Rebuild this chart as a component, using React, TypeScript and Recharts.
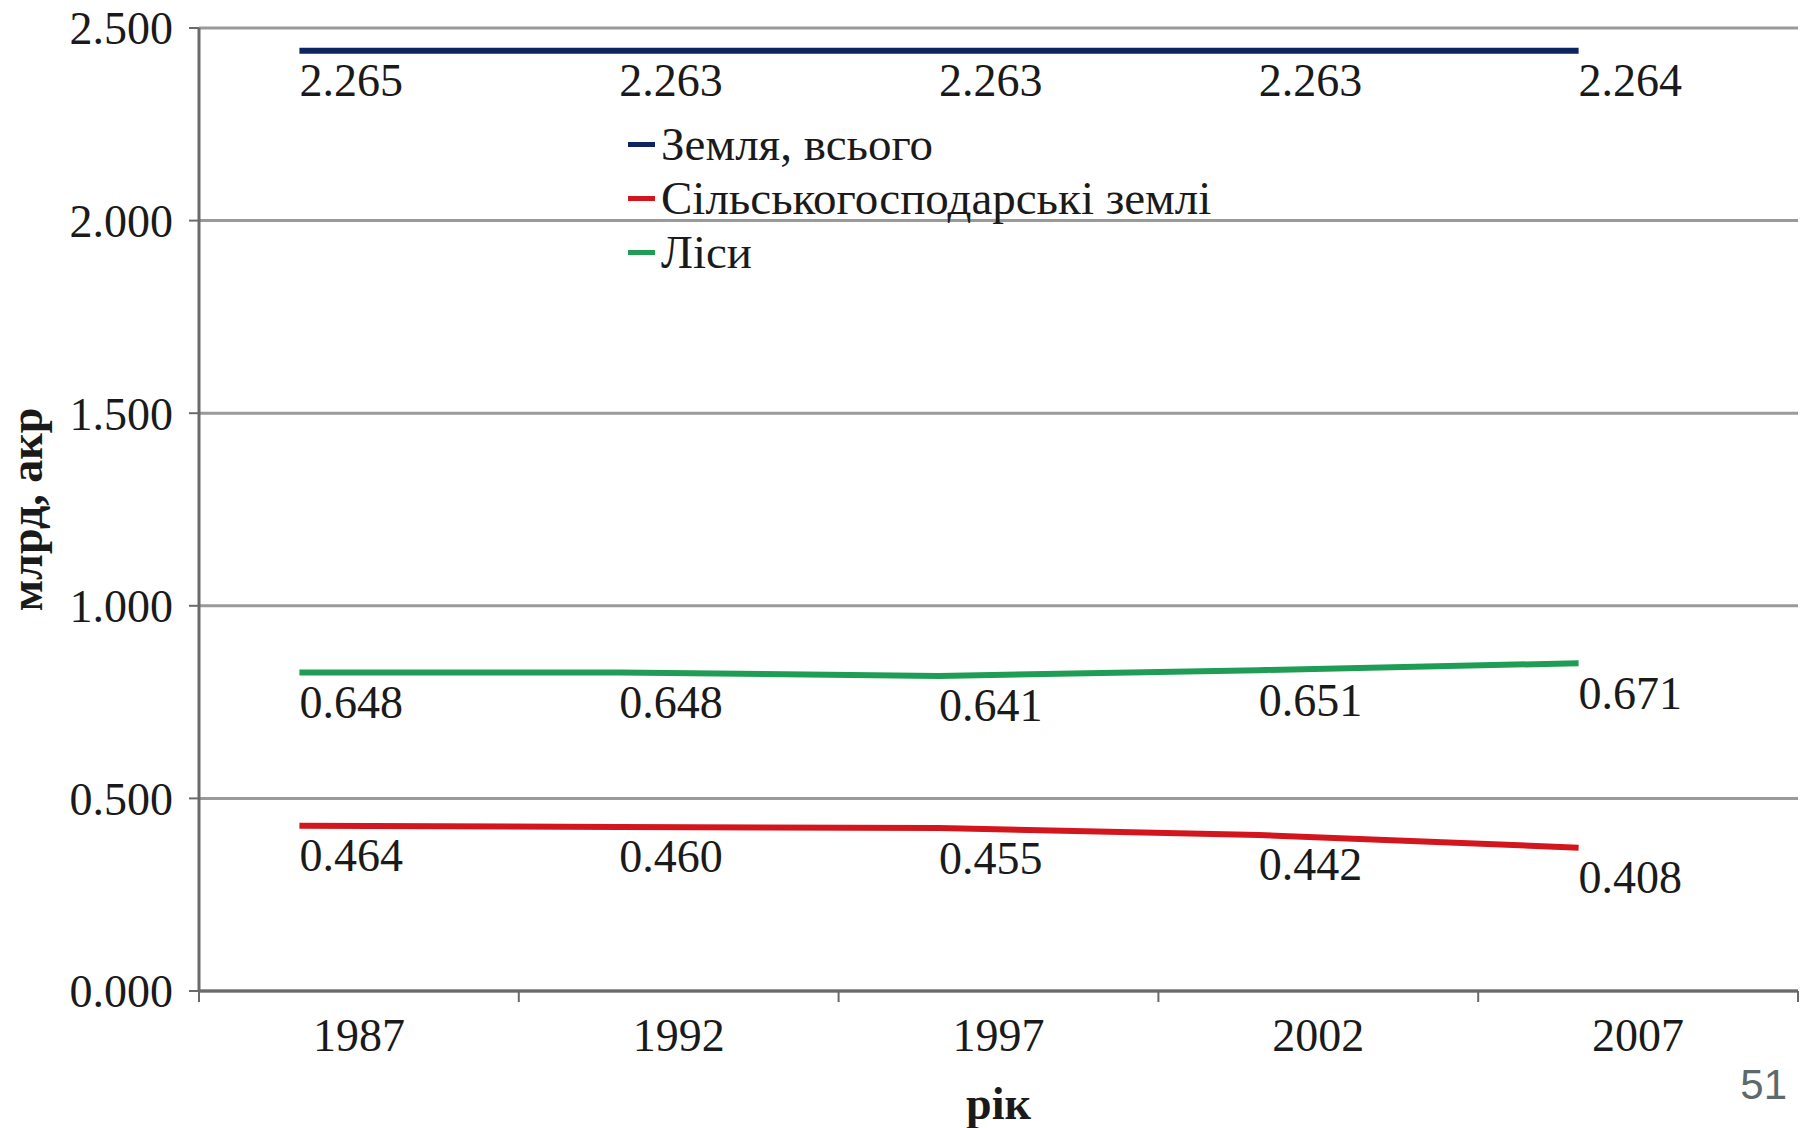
import React from 'react';
import { LineChart, Line, XAxis, YAxis, CartesianGrid, Legend, LabelList, Label } from 'recharts';

// years shown under the axis
const years = [1987, 1992, 1997, 2002, 2007];

// series names, in legend order
const seriesNames = ['Земля, всього', 'Сільськогосподарські землі', 'Ліси'];

// where each line is drawn and the value printed under it
const totalValues = [2.441, 2.441, 2.441, 2.441, 2.441];
const totalLabels = ['2.265', '2.263', '2.263', '2.263', '2.264'];
const agriValues = [0.429, 0.426, 0.423, 0.405, 0.372];
const agriLabels = ['0.464', '0.460', '0.455', '0.442', '0.408'];
const forestValues = [0.827, 0.827, 0.818, 0.833, 0.851];
const forestLabels = ['0.648', '0.648', '0.641', '0.651', '0.671'];

const yTicks = [0, 0.5, 1, 1.5, 2, 2.5];

const SERIF = '"Liberation Serif", "Times New Roman", serif';
const TEXT = '#1a1a1a';
const AXIS = '#6a6a6a';

const data = years.map((year, i) => ({
  year,
  total: totalValues[i],
  totalLabel: totalLabels[i],
  agri: agriValues[i],
  agriLabel: agriLabels[i],
  forest: forestValues[i],
  forestLabel: forestLabels[i],
}));

const half = (years[1] - years[0]) / 2;
const xDomain = [years[0] - half, years[years.length - 1] + half];
// the plotted points sit a bit left of the year centres in the original
const shift = 0.93;

// year label at the band centre, tick marks on the band edges (Excel style)
const YearTick = (props: any) => {
  const { x, y, payload, index, width } = props;
  const band = (width || 1599) / years.length;
  const left = x - band / 2;
  return (
    <g>
      <line x1={left} x2={left} y1={y} y2={y + 11} stroke={AXIS} strokeWidth={2} />
      {index === years.length - 1 && (
        <line x1={x + band / 2} x2={x + band / 2} y1={y} y2={y + 11} stroke={AXIS} strokeWidth={2} />
      )}
      <text x={x} y={y + 44} textAnchor="middle" dominantBaseline="central" fontSize={46} fill={TEXT} fontFamily={SERIF}>
        {payload.value}
      </text>
    </g>
  );
};

const PointLabel = (props: any) => {
  const { x, y, value } = props;
  return (
    <text x={x} y={y + 30} textAnchor="start" dominantBaseline="central" fontSize={46} fill={TEXT} fontFamily={SERIF}>
      {value}
    </text>
  );
};

const LegendContent = ({ payload }: any) => {
  const items = [...(payload || [])].sort((a: any, b: any) => seriesNames.indexOf(a.value) - seriesNames.indexOf(b.value));
  return (
    <div style={{ display: 'flex', flexDirection: 'column' }}>
      {items.map((item: any) => (
        <div key={item.value} style={{ display: 'flex', alignItems: 'center', height: 54 }}>
          <span style={{ display: 'inline-block', width: 27, height: 5, background: item.color, marginRight: 6 }} />
          <span style={{ fontSize: 47, fontFamily: SERIF, color: TEXT, lineHeight: '54px', whiteSpace: 'nowrap' }}>
            {item.value}
          </span>
        </div>
      ))}
    </div>
  );
};

const YTitle = (props: any) => {
  const vb = props.viewBox || { x: 0, y: 0, width: 0, height: 0 };
  const cx = vb.x + 42;
  const cy = vb.y + vb.height / 2;
  return (
    <text x={cx} y={cy} transform={`rotate(-90, ${cx}, ${cy})`} textAnchor="middle" fontSize={46} fontWeight="bold" fill={TEXT} fontFamily={SERIF}>
      млрд, акр
    </text>
  );
};

export default function App() {
  return (
    <div style={{ position: 'absolute', left: 0, top: 0, width: 1808, height: 1128, background: '#fff' }}>
      <LineChart width={1808} height={1128} data={data} margin={{ top: 28, right: 10, left: 0, bottom: 0 }} style={{ fontFamily: SERIF }}>
        <CartesianGrid xAxisId="years" vertical={false} stroke="#9a9a9a" strokeWidth={3} />
        <XAxis
          xAxisId="years"
          type="number"
          dataKey="year"
          domain={xDomain}
          ticks={years}
          interval={0}
          allowDataOverflow
          height={137}
          axisLine={{ stroke: AXIS, strokeWidth: 3 }}
          tickLine={false}
          tickSize={0}
          tickMargin={0}
          tick={<YearTick />}
        >
          <Label value="рік" position="insideBottom" offset={9} fontSize={46} fontWeight="bold" fill={TEXT} fontFamily={SERIF} />
        </XAxis>
        <XAxis
          xAxisId="pos"
          type="number"
          dataKey="year"
          hide
          height={0}
          allowDataOverflow
          domain={[xDomain[0] + shift, xDomain[1] + shift]}
        />
        <YAxis
          type="number"
          domain={[0, 2.5]}
          ticks={yTicks}
          interval={0}
          width={199}
          tickFormatter={(v: number) => v.toFixed(3)}
          tick={{ fontSize: 46, fill: TEXT, fontFamily: SERIF }}
          tickSize={10}
          tickMargin={16}
          axisLine={{ stroke: AXIS, strokeWidth: 3 }}
          tickLine={{ stroke: AXIS, strokeWidth: 2 }}
        >
          <Label content={<YTitle />} />
        </YAxis>
        <Legend
          layout="vertical"
          align="center"
          verticalAlign="middle"
          content={<LegendContent />}
          wrapperStyle={{ left: 628, top: 117, width: 720, height: 170 }}
        />
        <Line xAxisId="pos" type="linear" dataKey="total" name={seriesNames[0]} stroke="#0c2560" strokeWidth={6} dot={false} isAnimationActive={false}>
          <LabelList dataKey="totalLabel" content={<PointLabel />} />
        </Line>
        <Line xAxisId="pos" type="linear" dataKey="agri" name={seriesNames[1]} stroke="#d3161d" strokeWidth={6} dot={false} isAnimationActive={false}>
          <LabelList dataKey="agriLabel" content={<PointLabel />} />
        </Line>
        <Line xAxisId="pos" type="linear" dataKey="forest" name={seriesNames[2]} stroke="#1f9d55" strokeWidth={6} dot={false} isAnimationActive={false}>
          <LabelList dataKey="forestLabel" content={<PointLabel />} />
        </Line>
      </LineChart>
      <div
        style={{
          position: 'absolute',
          left: 1687,
          top: 1064,
          width: 100,
          textAlign: 'right',
          fontSize: 42,
          lineHeight: '42px',
          fontFamily: '"Liberation Sans", Arial, sans-serif',
          color: '#5d6a6c',
        }}
      >
        51
      </div>
    </div>
  );
}
